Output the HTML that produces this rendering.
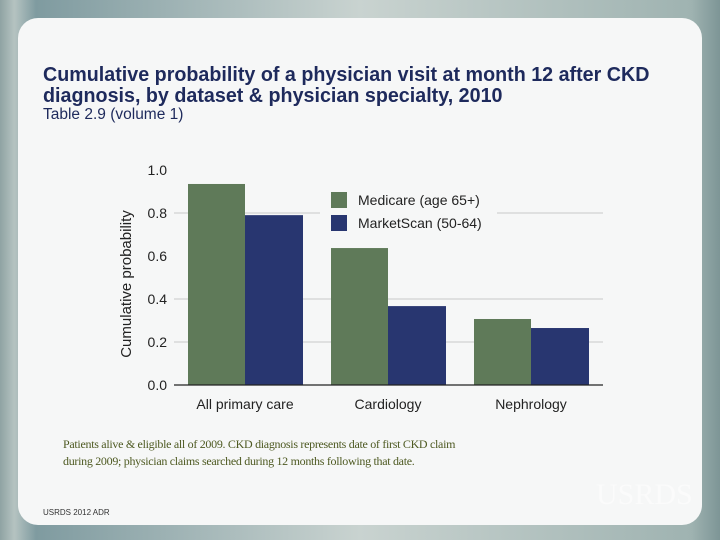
<!DOCTYPE html>
<html><head><meta charset="utf-8"><style>
body{margin:0;width:720px;height:540px;overflow:hidden;font-family:"Liberation Sans",sans-serif;}
#bg{position:absolute;left:0;top:0;width:720px;height:540px;background:linear-gradient(90deg,#8fa3a3 0%,#b5c3c1 2%,#7f9ba0 5%,#c9d3d0 50%,#9fb3b1 96%,#7d9596 100%);}
#panel{position:absolute;left:18px;top:18px;width:684px;height:507px;background:#f6f7f7;border-radius:20px;}
.t{position:absolute;color:#1e2a5c;}
</style></head><body>
<div id="bg"></div>
<div id="panel"></div>
<div class="t" style="left:43px;top:65px;font-size:20px;font-weight:bold;line-height:21px;transform:scaleX(0.985);transform-origin:left;">Cumulative probability of a physician visit at month 12 after CKD<br>diagnosis, by dataset &amp; physician specialty, 2010</div>
<div class="t" style="left:43px;top:106px;font-size:15.5px;">Table 2.9 (volume 1)</div>
<svg id="chart" width="720" height="540" style="position:absolute;left:0;top:0" font-family="Liberation Sans, sans-serif"></svg>
<div style="position:absolute;left:63px;top:436px;font-family:'Liberation Serif',serif;font-size:12px;line-height:17px;color:#4e5a22;letter-spacing:-0.3px;">Patients alive &amp; eligible all of 2009. CKD diagnosis represents date of first CKD claim<br>during 2009; physician claims searched during 12 months following that date.</div>
<div style="position:absolute;left:43px;top:508px;font-size:8px;color:#333;">USRDS 2012 ADR</div>
<div style="position:absolute;left:596px;top:478px;font-family:'Liberation Serif',serif;font-size:30px;color:rgba(255,255,255,0.5);">USRDS</div>
<script>
const categories=["All primary care","Cardiology","Nephrology"];
const medicare=[0.935,0.637,0.307];
const marketscan=[0.79,0.367,0.265];
const ticks=[0,0.2,0.4,0.6,0.8,1.0];
const seriesNames=["Medicare (age 65+)","MarketScan (50-64)"];
const colors=["#5f7a59","#283670"];
const svg=document.getElementById('chart');
const NS="http://www.w3.org/2000/svg";
const y=v=>385-v*215;
const gx=i=>188+i*143;
function mk(t,a){const e=document.createElementNS(NS,t);for(const k in a)e.setAttribute(k,a[k]);svg.appendChild(e);return e;}
ticks.forEach(t=>{
  if(t>0&&t<1&&t!==0.6){
    if(t===0.8){
      const l1=mk('line',{x1:174,x2:320,y1:y(t),y2:y(t),stroke:'#c8c8c8','stroke-width':1});
      
      
      const l2=mk('line',{x1:497,x2:603,y1:y(t),y2:y(t),stroke:'#c8c8c8','stroke-width':1});
      
      
    } else {
      const l=mk('line',{x1:174,x2:603,y1:y(t),y2:y(t),stroke:'#c8c8c8','stroke-width':1});
      
      
    }
  }
  const tx=mk('text',{x:167,y:y(t)+5,'text-anchor':'end','font-size':14,fill:'#222'});
  tx.textContent=t.toFixed(1);
  
  
});
categories.forEach((c,i)=>{
  const b1=mk('rect',{x:gx(i),y:y(medicare[i]),width:57,height:385-y(medicare[i]),fill:colors[0]});
  
  
  const b2=mk('rect',{x:gx(i)+57,y:y(marketscan[i]),width:58,height:385-y(marketscan[i]),fill:colors[1]});
  
  
  const tx=mk('text',{x:gx(i)+57,y:409,'text-anchor':'middle','font-size':14,fill:'#222'});
  tx.textContent=c;
  
  
});
const ax=mk('line',{x1:174,x2:603,y1:385,y2:385,stroke:'#222','stroke-width':1.2});


const yt=mk('text',{x:0,y:0,transform:'translate(131,284) rotate(-90)','text-anchor':'middle','font-size':15,fill:'#222'});
yt.textContent='Cumulative probability';


seriesNames.forEach((n,i)=>{
  const r=mk('rect',{x:331,y:192+i*23,width:16,height:16,fill:colors[i]});
  
  
  const t=mk('text',{x:358,y:205+i*23,'font-size':14,fill:'#222'});
  t.textContent=n;
  
  
});
</script>
</body></html>
